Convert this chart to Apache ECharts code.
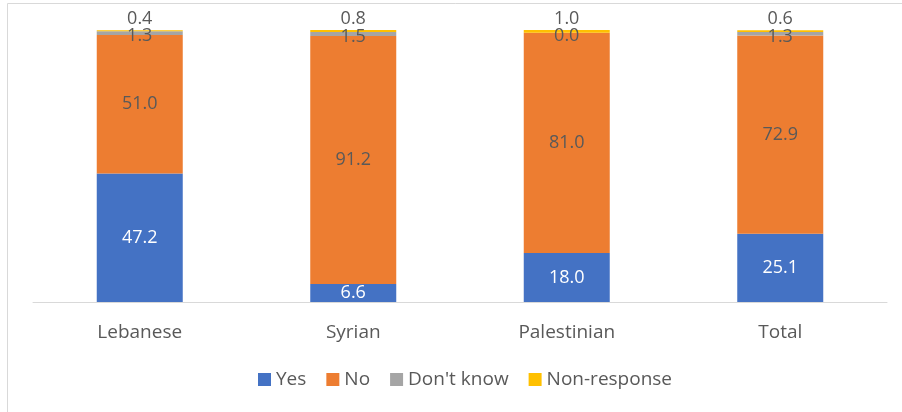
<!DOCTYPE html>
<html><head><meta charset="utf-8">
<script src="https://cdn.jsdelivr.net/npm/echarts@6/dist/echarts.min.js"></script>
<style>html,body{margin:0;padding:0;background:#fff}#c{width:902px;height:412px}</style>
</head><body><div id="c"></div>
<script>
const categories = ['Lebanese', 'Syrian', 'Palestinian', 'Total'];
const yesValues = [47.2, 6.6, 18.0, 25.1];
const noValues = [51.0, 91.2, 81.0, 72.9];
const dontKnowValues = [1.3, 1.5, 0.0, 1.3];
const nonResponseValues = [0.4, 0.8, 1.0, 0.6];
const seriesNames = ['Yes', 'No', "Don't know", 'Non-response'];

const FONT = 'Open Sans';
const fmt = p => p.value.toFixed(1);
const chart = echarts.init(document.getElementById('c'), null, {renderer: 'canvas'});
function mk(name, data, color, label) {
  return {
    name, type: 'bar', stack: 'a', data, barWidth: 86,
    itemStyle: {color},
    label: Object.assign({show: true, formatter: fmt, fontFamily: FONT, fontSize: 18}, label)
  };
}
chart.setOption({
  animation: false,
  textStyle: {fontFamily: FONT},
  graphic: [{type: 'rect', shape: {x: 7.5, y: 3.5, width: 1000, height: 1000}, style: {fill: 'none', stroke: '#D9D9D9', lineWidth: 1}, silent: true}],
  grid: {left: 33, right: 15, top: 30, bottom: 110, containLabel: false},
  legend: {
    bottom: 18, left: 253, itemWidth: 13, itemHeight: 13, itemGap: 20, icon: 'rect',
    textStyle: {color: '#595959', fontSize: 19, fontFamily: FONT},
    data: seriesNames
  },
  xAxis: {
    type: 'category', data: categories,
    axisLine: {lineStyle: {color: '#D9D9D9', width: 1}},
    axisTick: {show: false},
    axisLabel: {color: '#595959', fontSize: 19, fontFamily: FONT, margin: 21}
  },
  yAxis: {type: 'value', min: 0, max: 100, show: false, splitLine: {show: false}},
  series: [
    mk(seriesNames[0], yesValues, '#4472C4', {position: 'inside', color: '#FFFFFF'}),
    mk(seriesNames[1], noValues, '#ED7D31', {position: 'inside', color: '#595959'}),
    mk(seriesNames[2], dontKnowValues, '#A5A5A5', {position: 'inside', color: '#595959', offset: [0, 3]}),
    mk(seriesNames[3], nonResponseValues, '#FFC000', {position: 'top', color: '#595959', distance: 2})
  ]
});
</script></body></html>
